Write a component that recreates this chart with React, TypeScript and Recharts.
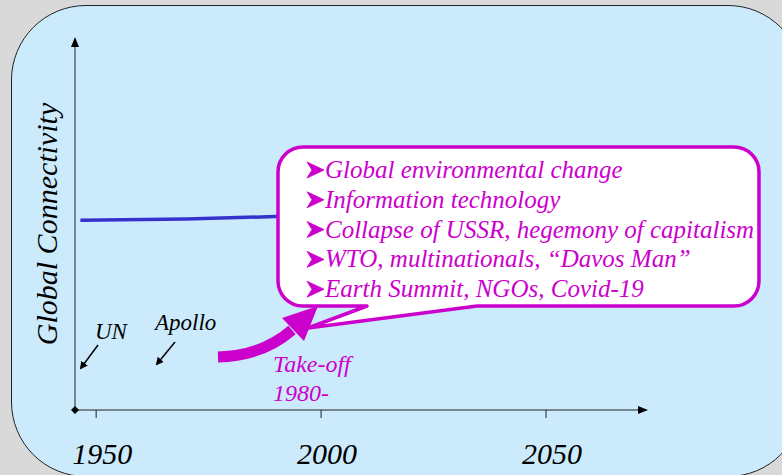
import React from "react";
import { LineChart, Line, XAxis, YAxis } from "recharts";

const years = [1946.5, 1970, 1993];
const connectivity = [51.3, 51.6, 52.4];
const tickYears = [1950, 2000, 2050];
const bullets = [
  "Global environmental change",
  "Information technology",
  "Collapse of USSR, hegemony of capitalism",
  "WTO, multinationals, \u201cDavos Man\u201d",
  "Earth Summit, NGOs, Covid-19",
];
const events = [
  { name: "UN", x: 95, y: 339, from: [98, 345], to: [81, 368] },
  { name: "Apollo", x: 155, y: 330, from: [175, 342], to: [157, 364] },
];

const W = 782;
const H = 475;
const MAGENTA = "#cc00cc";
const SERIF = "Liberation Serif, Tinos, Times New Roman, DejaVu Serif, serif";

const data = years.map((year, i) => ({ year, value: connectivity[i] }));

function YearTick(props: any) {
  const { x, y, payload } = props;
  return (
    <text
      x={x + 6}
      y={y + 44}
      textAnchor="middle"
      style={{ fontFamily: SERIF, fontStyle: "italic", fontSize: 30 }}
      fill="#000"
    >
      {payload.value}
    </text>
  );
}

function Overlay() {
  const callout =
    "M303,147 H734 A25,25 0 0 1 759,172 V281 A25,25 0 0 1 734,306 H477 L308,328 L367,306 H303 A25,25 0 0 1 278,281 V172 A25,25 0 0 1 303,147 Z";
  const serif = { fontFamily: SERIF, fontStyle: "italic" as const };
  return (
    <svg
      width={W}
      height={H}
      style={{ position: "absolute", left: 0, top: 0, pointerEvents: "none" }}
    >
      <defs>
        <marker id="blackArrow" markerWidth="8" markerHeight="8" refX="6" refY="4" orient="auto" markerUnits="userSpaceOnUse">
          <path d="M0,0 L8,4 L0,8 Z" fill="#000" />
        </marker>
      </defs>
      {/* axis ends */}
      <path d="M75,37 L71,47 L79,47 Z" fill="#000" />
      <path d="M648,410 L638,406 L638,414 Z" fill="#000" />
      <path d="M75,406 L79,410 L75,414 L71,410 Z" fill="#000" />

      <text
        transform="translate(57,224) rotate(-90)"
        textAnchor="middle"
        style={{ ...serif, fontSize: 30 }}
        fill="#000"
      >
        Global Connectivity
      </text>

      {events.map((e) => (
        <g key={e.name}>
          <text x={e.x} y={e.y} style={{ ...serif, fontSize: 23 }} fill="#000">
            {e.name}
          </text>
          <line
            x1={e.from[0]}
            y1={e.from[1]}
            x2={e.to[0]}
            y2={e.to[1]}
            stroke="#000"
            strokeWidth={1.5}
            markerEnd="url(#blackArrow)"
          />
        </g>
      ))}

      <path d={callout} fill="#fff" stroke={MAGENTA} strokeWidth={3.5} strokeLinejoin="round" />
      {bullets.map((b, i) => {
        const by = 178 + i * 29.8;
        return (
          <g key={b}>
            {/* arrowhead bullet */}
            <path
              d={`M307,${by - 16} L324,${by - 8} L307,${by} L312,${by - 8} Z`}
              fill={MAGENTA}
              stroke={MAGENTA}
              strokeWidth={0.8}
              strokeLinejoin="round"
            />
            <text x={325} y={by} fill={MAGENTA} style={{ ...serif, fontSize: 25 }}>
              {b}
            </text>
          </g>
        );
      })}

      <path d="M218,357 Q262,356 292,330" fill="none" stroke={MAGENTA} strokeWidth={11} />
      <path d="M282,318 L318,306 L304,341 Z" fill={MAGENTA} />

      <text x={273} y={372} fill={MAGENTA} style={{ ...serif, fontSize: 24 }}>
        Take-off
      </text>
      <text x={273} y={401} fill={MAGENTA} style={{ ...serif, fontSize: 24 }}>
        1980-
      </text>
    </svg>
  );
}

export default function App() {
  return (
    <div
      style={{
        position: "fixed",
        left: 0,
        top: 0,
        width: W,
        height: H,
        overflow: "hidden",
        background: "#d9d9d9",
      }}
    >
      <div
        style={{
          position: "absolute",
          left: 11,
          top: 5,
          width: 790,
          height: 470,
          borderRadius: 75,
          border: "1px solid #222",
          background: "#cbebfd",
        }}
      />
      <div style={{ position: "absolute", left: 0, top: 0 }}>
        <LineChart width={W} height={H} data={data} margin={{ top: 40, right: 137, bottom: 0, left: 74 }}>
          <XAxis
            dataKey="year"
            type="number"
            domain={[1945.3, 2072]}
            ticks={tickYears}
            height={65}
            stroke="#222"
            tickSize={8}
            tick={<YearTick />}
            allowDataOverflow
          />
          <YAxis type="number" domain={[0, 100]} width={1} tick={false} tickLine={false} stroke="#222" />
          <Line
            type="monotone"
            dataKey="value"
            stroke="#3333cc"
            strokeWidth={3.5}
            dot={false}
            isAnimationActive={false}
          />
        </LineChart>
      </div>
      <Overlay />
    </div>
  );
}
